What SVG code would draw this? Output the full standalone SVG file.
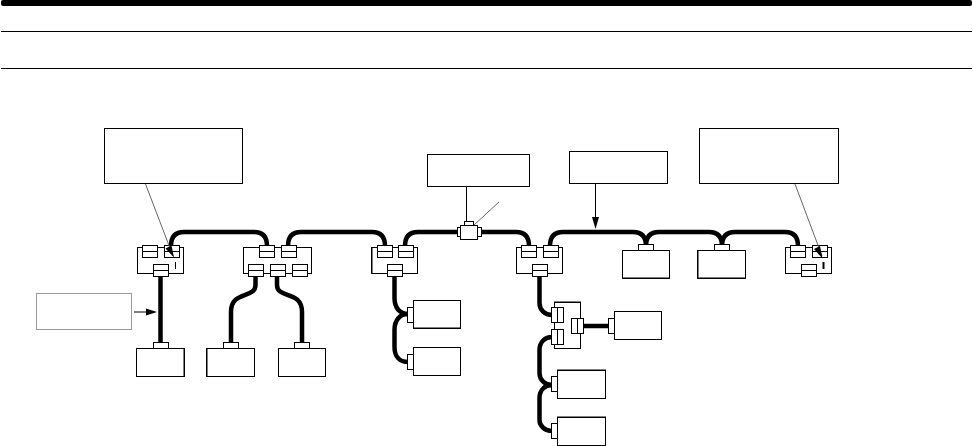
<svg xmlns="http://www.w3.org/2000/svg" width="973" height="446" viewBox="0 0 973 446">
<style>
.b{fill:#fff;stroke:#000;stroke-width:1}
.g{fill:#fff;stroke:#999;stroke-width:1}
.c{fill:none;stroke:#000;stroke-width:4.500}
.l{fill:none;stroke:#000;stroke-width:1}
.d{fill:none;stroke:#666;stroke-width:1}
.h{fill:#000;stroke:none}
.k{fill:none;stroke:#000;stroke-width:2}
</style>
<defs>
<g id="conn"><rect class="b" x="0" y="0" width="15" height="12"/><path class="l" d="M0 6H15"/></g>
<g id="sconn"><rect class="b" x="0" y="0" width="12" height="15"/><path class="l" d="M6 0V15"/></g>
</defs>
<g id="page-rules">
<rect x="1" y="0" width="971" height="6" rx="2" fill="#000"/>
<path class="l" d="M1 31.500H972M1 68.500H972"/>
</g>
<g id="connectors">
<path class="c" d="M171 246C171 237 175 232 184 232H254C263 232 267 237 267 246"/>
<path class="c" d="M288 246C288 237 292 232 301 232H372C381 232 385 237 385 246"/>
<path class="c" d="M405 246C405 237 409 232 418 232H460"/>
<path class="c" d="M480 232H516C525 232 529 237 529 246"/>
<path class="c" d="M550 246C550 237 554 232 563 232H633C642 232 646 237 646 246"/>
<path class="c" d="M646 246C646 237 650 232 659 232H709C718 232 722 237 722 246"/>
<path class="c" d="M722 246C722 237 726 232 735 232H785C794 232 798 237 798 246"/>
<path class="c" d="M160.500 276V343"/>
<path class="c" d="M255.500 276V285C255.500 299 231 290 231 312V343"/>
<path class="c" d="M277 276V285C277 299 302 290 302 312V343"/>
<path class="c" d="M394.500 276V298C394.500 308 400 314 408 314"/>
<path class="c" d="M408 314C400 314 394.500 320 394.500 330V347C394.500 357 400 362 408 362"/>
<path class="c" d="M539.500 276V303C539.500 310 545 315 552 315"/>
<path class="c" d="M552 337C545 337 539.500 342 539.500 350V373C539.500 380 545 385 552 385"/>
<path class="c" d="M552 385C545 385 539.500 390 539.500 398V420C539.500 426 545 431 552 431"/>
<path class="c" d="M584 326H609"/>
<path class="l" d="M466.500 187V222"/>
<path class="d" d="M499 202L474 225"/>
<path class="l" d="M595.500 184V218"/>
<path class="h" d="M592 217H599L595.500 229Z"/>
<path class="l" d="M134 312H147"/>
<path class="h" d="M146 308.500L157 312L146 315.500Z"/>
</g>
<g id="label-a"><rect class="b" x="104.500" y="128.500" width="138" height="55"/></g>
<g id="label-b"><rect class="g" x="36.500" y="293.500" width="95" height="36"/></g>
<g id="label-c"><rect class="b" x="427.500" y="154.500" width="102" height="32"/></g>
<g id="label-d"><rect class="b" x="569.500" y="151.500" width="98" height="32"/></g>
<g id="label-e"><rect class="b" x="699.500" y="128.500" width="139" height="55"/></g>
<g id="tap-1">
<rect class="b" x="137.500" y="247.500" width="46" height="26"/>
<use href="#conn" x="142.500" y="245.500"/><use href="#conn" x="164.500" y="245.500"/><use href="#conn" x="153.500" y="264.500"/>
<path class="l" d="M175.500 262V269"/>
</g>
<g id="tap-2">
<rect class="b" x="243.500" y="247.500" width="68" height="26"/>
<use href="#conn" x="259.500" y="245.500"/><use href="#conn" x="281.500" y="245.500"/>
<use href="#conn" x="248.500" y="264.500"/><use href="#conn" x="270.500" y="264.500"/><use href="#conn" x="292.500" y="264.500"/>
</g>
<g id="tap-3">
<rect class="b" x="371.500" y="247.500" width="46" height="26"/>
<path class="l" d="M372 247.500V274"/>
<use href="#conn" x="377.500" y="245.500"/><use href="#conn" x="398.500" y="245.500"/><use href="#conn" x="387.500" y="264.500"/>
</g>
<g id="tee">
<rect class="b" x="457.500" y="227.500" width="24" height="9"/>
<rect class="b" x="464.500" y="221.500" width="9" height="5"/>
<rect class="b" x="460.500" y="225.500" width="17" height="14"/>
</g>
<g id="tap-4">
<rect class="b" x="516.500" y="247.500" width="46" height="26"/>
<use href="#conn" x="521.500" y="245.500"/><use href="#conn" x="543.500" y="245.500"/><use href="#conn" x="532.500" y="264.500"/>
</g>
<g id="tap-5">
<rect class="b" x="785.500" y="247.500" width="46" height="26"/>
<use href="#conn" x="790.500" y="245.500"/><use href="#conn" x="812.500" y="245.500"/><use href="#conn" x="801.500" y="264.500"/>
<path class="k" d="M823.500 262V269"/>
</g>
<g id="dev-1"><rect class="b" x="136.500" y="348.500" width="48" height="28"/><rect class="b" x="153.500" y="342.500" width="15" height="6"/><path class="l" d="M184 349V376"/></g>
<g id="dev-2"><rect class="b" x="206.500" y="348.500" width="48" height="28"/><rect class="b" x="223.500" y="342.500" width="15" height="6"/><path class="l" d="M207 349V376"/></g>
<g id="dev-3"><rect class="b" x="278.500" y="348.500" width="47" height="28"/><rect class="b" x="294.500" y="342.500" width="15" height="6"/></g>
<g id="dev-4"><rect class="b" x="622.500" y="250.500" width="47" height="28"/><path class="l" d="M622 278H670"/><rect class="b" x="638.500" y="244.500" width="15" height="6"/></g>
<g id="dev-5"><rect class="b" x="697.500" y="250.500" width="48" height="28"/><path class="l" d="M698 251V279M697 278H746"/><rect class="b" x="714.500" y="244.500" width="15" height="6"/></g>
<g id="dev-6"><rect class="b" x="413.500" y="300.500" width="47" height="28"/><path class="l" d="M413 328H461"/><rect class="b" x="407.500" y="307.500" width="6" height="15"/></g>
<g id="dev-7"><rect class="b" x="413.500" y="347.500" width="47" height="28"/><rect class="b" x="407.500" y="354.500" width="6" height="15"/></g>
<g id="tap-6">
<rect class="b" x="554.500" y="302.500" width="26" height="46"/>
<path class="l" d="M554 302H581"/>
<use href="#sconn" x="551.500" y="307.500"/><use href="#sconn" x="551.500" y="329.500"/><use href="#sconn" x="571.500" y="318.500"/>
</g>
<g id="dev-8"><rect class="b" x="614.500" y="311.500" width="47" height="28"/><rect class="b" x="608.500" y="318.500" width="6" height="15"/></g>
<g id="dev-9"><rect class="b" x="557.500" y="370.500" width="48" height="28"/><path class="l" d="M557 370H606"/><rect class="b" x="551.500" y="376.500" width="6" height="15"/></g>
<g id="dev-10"><rect class="b" x="557.500" y="417.500" width="48" height="28"/><path class="l" d="M557 417H606"/><rect class="b" x="551.500" y="423.500" width="6" height="15"/></g>
<g id="callouts">
<path class="d" d="M145.500 184L173 256"/>
<path class="h" d="M174 257.500L165.500 248.500L171.500 245.500Z"/>
<path class="d" d="M795 184L822 256"/>
<path class="h" d="M822.500 258.500L814 249L820 246Z"/>
</g>
</svg>
